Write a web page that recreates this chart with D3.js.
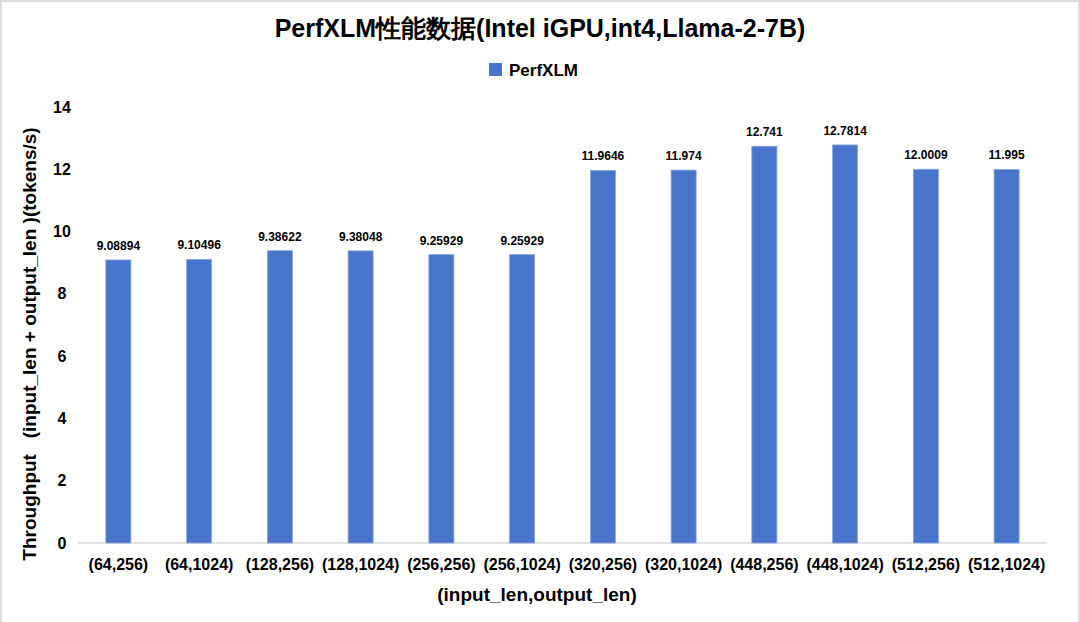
<!DOCTYPE html>
<html>
<head>
<meta charset="UTF-8">
<script src="https://cdn.jsdelivr.net/npm/d3@7"></script>
<style>
body{ margin:0; background:#fff; }
text{ font-family: "Liberation Sans", Arial, sans-serif; font-weight:bold; fill:#000; }
</style>
</head>
<body>
<script>
// chart data
var categories = ["(64,256)","(64,1024)","(128,256)","(128,1024)","(256,256)","(256,1024)",
                  "(320,256)","(320,1024)","(448,256)","(448,1024)","(512,256)","(512,1024)"]
var values = [9.08894, 9.10496, 9.38622, 9.38048, 9.25929, 9.25929,
              11.9646, 11.974, 12.741, 12.7814, 12.0009, 11.995]
var valueLabels = ["9.08894","9.10496","9.38622","9.38048","9.25929","9.25929",
                   "11.9646","11.974","12.741","12.7814","12.0009","11.995"]
var yTicks = [0, 2, 4, 6, 8, 10, 12, 14]
var seriesName = "PerfXLM"

var width = 1080, height = 622
var barColor = "#4874cb"

var svg = d3.select("body").append("svg")
    .attr("width", width)
    .attr("height", height)

// light frame round the picture
svg.append("rect")
    .attr("x", 1).attr("y", 1)
    .attr("width", width - 2).attr("height", height + 10)
    .attr("fill", "none")
    .attr("stroke", "#dcdcdc")
    .attr("stroke-width", 2)

var x = d3.scaleBand().domain(categories).range([78, 1047]).paddingInner(0.69).paddingOuter(0.345)
var y = d3.scaleLinear().domain([0, 14]).range([543, 107])

// title
svg.append("text")
    .attr("x", 540).attr("y", 37)
    .attr("text-anchor", "middle")
    .attr("font-size", 25)
    .text("PerfXLM性能数据(Intel iGPU,int4,Llama-2-7B)")

// legend
svg.append("rect")
    .attr("x", 489).attr("y", 63)
    .attr("width", 13).attr("height", 13)
    .attr("fill", barColor)
svg.append("text")
    .attr("x", 509).attr("y", 76)
    .attr("font-size", 17)
    .text(seriesName)

// y axis labels (no line, no grid)
svg.selectAll(".ytick")
  .data(yTicks)
  .enter().append("text")
    .attr("class", "ytick")
    .attr("x", 62)
    .attr("y", d => y(d))
    .attr("dy", "0.35em")
    .attr("text-anchor", "middle")
    .attr("font-size", 16)
    .text(d => d)

// baseline
svg.append("line")
    .attr("x1", 78).attr("x2", 1047)
    .attr("y1", y(0)).attr("y2", y(0))
    .attr("stroke", "#d9d9d9")
    .attr("stroke-width", 1.5)

// bars
svg.selectAll(".bar")
  .data(values)
  .enter().append("rect")
    .attr("class", "bar")
    .attr("x", (d, i) => x(categories[i]))
    .attr("y", d => y(d))
    .attr("width", x.bandwidth())
    .attr("height", d => y(0) - y(d))
    .attr("fill", barColor)
    .attr("stroke", "#8aa6e0")
    .attr("stroke-width", 0.8)

// value labels
svg.selectAll(".val")
  .data(values)
  .enter().append("text")
    .attr("class", "val")
    .attr("x", (d, i) => x(categories[i]) + x.bandwidth() / 2)
    .attr("y", d => y(d) - 10)
    .attr("text-anchor", "middle")
    .attr("font-size", 12)
    .text((d, i) => valueLabels[i])

// category labels
svg.selectAll(".xlab")
  .data(categories)
  .enter().append("text")
    .attr("class", "xlab")
    .attr("x", d => x(d) + x.bandwidth() / 2)
    .attr("y", 570)
    .attr("text-anchor", "middle")
    .attr("font-size", 16)
    .text(d => d)

// axis titles
svg.append("text")
    .attr("x", 537).attr("y", 601)
    .attr("text-anchor", "middle")
    .attr("font-size", 19)
    .text("(input_len,output_len)")

svg.append("text")
    .attr("transform", "translate(36,344) rotate(-90)")
    .attr("text-anchor", "middle")
    .attr("font-size", 19)
    .attr("xml:space", "preserve")
    .style("white-space", "pre")
    .text("Throughput   (input_len + output_len )(tokens/s)")
</script>
</body>
</html>
